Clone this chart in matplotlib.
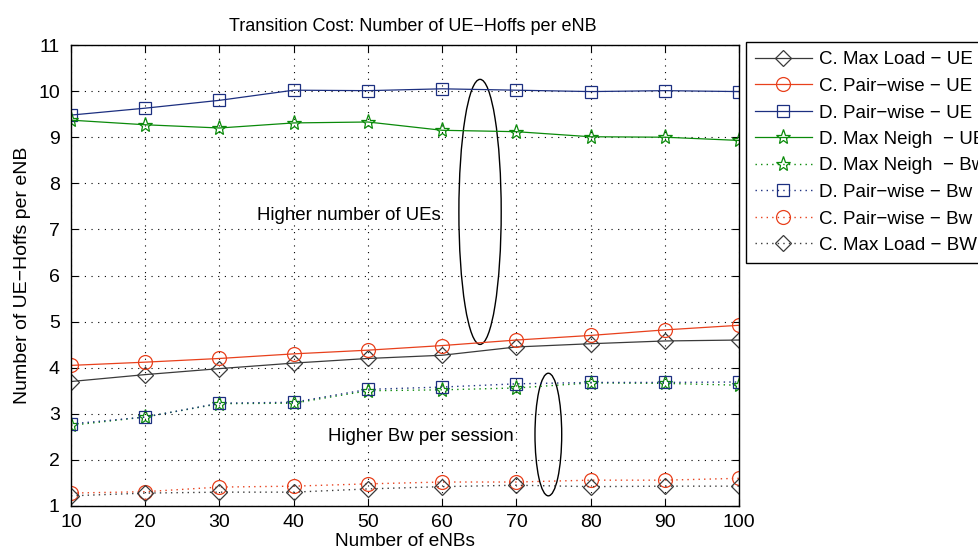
import numpy as np
import matplotlib.pyplot as plt
from matplotlib.patches import Ellipse

plt.rcParams["font.family"] = ["Liberation Sans", "DejaVu Sans"]

enbs = [10, 20, 30, 40, 50, 60, 70, 80, 90, 100]

c_maxload_ue = [3.70, 3.85, 3.98, 4.10, 4.20, 4.27, 4.45, 4.52, 4.58, 4.60]
c_pair_ue = [4.05, 4.12, 4.20, 4.30, 4.38, 4.48, 4.60, 4.70, 4.82, 4.92]
d_pair_ue = [9.48, 9.63, 9.80, 10.02, 10.01, 10.05, 10.02, 9.99, 10.01, 9.99]
d_maxneigh_ue = [9.37, 9.27, 9.20, 9.31, 9.33, 9.15, 9.12, 9.01, 9.00, 8.93]

d_maxneigh_bw = [2.75, 2.93, 3.22, 3.23, 3.50, 3.52, 3.56, 3.67, 3.66, 3.62]
d_pair_bw = [2.78, 2.93, 3.23, 3.25, 3.53, 3.58, 3.65, 3.68, 3.68, 3.69]
c_pair_bw = [1.28, 1.31, 1.41, 1.43, 1.48, 1.52, 1.52, 1.56, 1.56, 1.60]
c_maxload_bw = [1.22, 1.28, 1.30, 1.30, 1.37, 1.42, 1.45, 1.42, 1.43, 1.43]

black = "#3a3a3a"
red = "#e8401c"
blue = "#1c2f80"
green = "#0a8a0a"
dots = (0, (1, 3))

fig = plt.figure(figsize=(9.79, 5.51), dpi=100)
ax = fig.add_axes([0.0725, 0.0817, 0.6825, 0.8366])

ax.plot(enbs, c_maxload_ue, "-", color=black, lw=0.9, marker="D", ms=8, mfc="none", mew=0.9, label="C. Max Load − UE")
ax.plot(enbs, c_pair_ue, "-", color=red, lw=0.9, marker="o", ms=10, mfc="none", mew=0.9, label="C. Pair−wise − UE")
ax.plot(enbs, d_pair_ue, "-", color=blue, lw=0.9, marker="s", ms=8, mfc="none", mew=0.9, label="D. Pair−wise − UE")
ax.plot(enbs, d_maxneigh_ue, "-", color=green, lw=0.9, marker="*", ms=11, mfc="none", mew=0.9, label="D. Max Neigh  − UE")
ax.plot(enbs, d_maxneigh_bw, linestyle=dots, color=green, lw=1.0, marker="*", ms=11, mfc="none", mew=0.9, label="D. Max Neigh  − Bw")
ax.plot(enbs, d_pair_bw, linestyle=dots, color=blue, lw=1.0, marker="s", ms=8, mfc="none", mew=0.9, label="D. Pair−wise − Bw")
ax.plot(enbs, c_pair_bw, linestyle=dots, color=red, lw=1.0, marker="o", ms=10, mfc="none", mew=0.9, label="C. Pair−wise − Bw")
ax.plot(enbs, c_maxload_bw, linestyle=dots, color=black, lw=1.0, marker="D", ms=8, mfc="none", mew=0.9, label="C. Max Load − BW")

ax.add_patch(Ellipse((65.1, 7.38), 5.7, 5.75, fill=False, ec="black", lw=1.0))
ax.add_patch(Ellipse((74.3, 2.55), 3.6, 2.66, fill=False, ec="black", lw=1.0))
ax.text(47.4, 7.3, "Higher number of UEs", fontsize=13.4, ha="center", va="center")
ax.text(57.1, 2.5, "Higher Bw per session", fontsize=13.4, ha="center", va="center")

ax.set_xlim(10, 100)
ax.set_ylim(1, 11)
ax.set_xticks(np.arange(10, 101, 10))
ax.set_yticks(np.arange(1, 12, 1))
ax.tick_params(direction="in", top=True, right=True, labelsize=14, length=5, width=0.8)
ax.tick_params(axis="x", pad=6)
ax.tick_params(axis="y", pad=8)
ax.grid(True, linestyle=(0, (1, 5)), color="black", lw=0.8)
for s in ax.spines.values():
    s.set_linewidth(1.0)

ax.set_title("Transition Cost: Number of UE−Hoffs per eNB", fontsize=13, pad=10, x=0.512)
ax.set_xlabel("Number of eNBs", fontsize=13.7, labelpad=1)
ax.set_ylabel("Number of UE−Hoffs per eNB", fontsize=14, labelpad=5)

leg = fig.legend(loc="upper left", bbox_to_anchor=(746 / 979, 1 - 42 / 551), fontsize=13.5,
                 fancybox=False, edgecolor="black", framealpha=1, handlelength=3.0,
                 labelspacing=0.5, borderpad=0.5, handletextpad=0.37, borderaxespad=0)
leg.get_frame().set_linewidth(1.0)

fig.savefig("out.png", dpi=100)
